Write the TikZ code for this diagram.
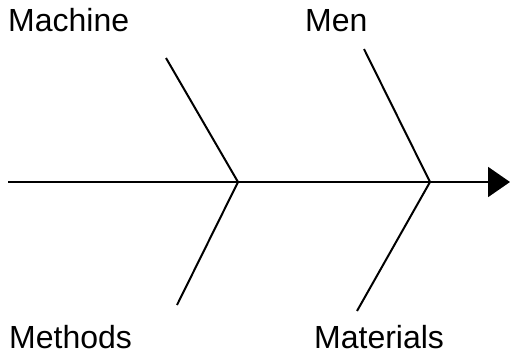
\documentclass[tikz,border=0pt]{standalone}
\usepackage{fontspec}
\setmainfont{Liberation Sans}
\usetikzlibrary{arrows.meta}
\begin{document}
\begin{tikzpicture}[x=1pt,y=-1pt,
  bone/.style={line width=2pt},
  lbl/.style={anchor=base west,inner sep=0pt,font=\fontsize{32}{34}\selectfont}]
\useasboundingbox (0,0) rectangle (510,356);
\coordinate (tail) at (8,182);
\coordinate (head) at (510,182);
\coordinate (j1) at (238,182);
\coordinate (j2) at (430,182);
\coordinate (mach) at (166,58);
\coordinate (meth) at (177,305);
\coordinate (men) at (364,49);
\coordinate (mat) at (357,311);
\draw[bone,-{Triangle[length=22pt,width=30pt]}] (tail) -- (head);
\draw[bone] (mach) -- (j1) -- (meth);
\draw[bone] (men) -- (j2) -- (mat);
\node[lbl] (lmach) at (8,31) {Machine};
\node[lbl] (lmen) at (305,31) {Men};
\node[lbl] (lmeth) at (9,348) {Methods};
\node[lbl] (lmat) at (314,348) {Materials};
\end{tikzpicture}
\end{document}
